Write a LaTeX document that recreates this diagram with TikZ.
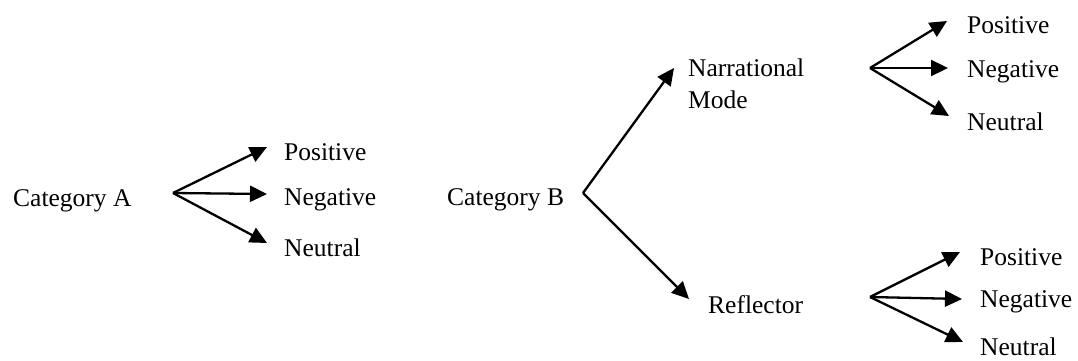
\documentclass[tikz,border=0pt]{standalone}
\usepackage{fontspec}
\setmainfont{Liberation Serif}
\usetikzlibrary{arrows.meta}
\begin{document}
\begin{tikzpicture}[x=1pt,y=-1pt,
  lbl/.style={anchor=west,inner sep=0pt,font=\fontsize{25.5}{32}\selectfont},
  arr/.style={line width=2.3pt,-{Triangle[length=17pt,width=16pt]}}]
\useasboundingbox (0,0) rectangle (1078,361);
% Category A
\node[lbl] (ca) at (13,201) {Category A};
\coordinate (oa) at (173,193);
\node[lbl] (ap) at (284,152) {Positive};
\node[lbl] (an) at (284,200) {Negative};
\node[lbl] (au) at (284,248) {Neutral};
\coordinate (tap) at (267,147);
\coordinate (tan) at (267,194);
\coordinate (tau) at (267,243);
\draw[arr] (oa) -- (tap);
\draw[arr] (oa) -- (tan);
\draw[arr] (oa) -- (tau);
% Category B
\node[lbl] (cb) at (447,200) {Category B};
\coordinate (ob) at (583,193);
\node[lbl,align=left] (nm) at (688,84) {Narrational\\Mode};
\node[lbl] (rf) at (708,305) {Reflector};
\coordinate (tnm) at (674,68);
\coordinate (trf) at (689,299);
\draw[arr] (ob) -- (tnm);
\draw[arr] (ob) -- (trf);
% Top right
\coordinate (o1) at (870,68);
\node[lbl] (p1) at (967,25) {Positive};
\node[lbl] (n1) at (967,72) {Negative};
\node[lbl] (u1) at (967,122) {Neutral};
\coordinate (tp1) at (947,21);
\coordinate (tn1) at (948,68);
\coordinate (tu1) at (949,116);
\draw[arr] (o1) -- (tp1);
\draw[arr] (o1) -- (tn1);
\draw[arr] (o1) -- (tu1);
% Bottom right
\coordinate (o2) at (870,297);
\node[lbl] (p2) at (980,257) {Positive};
\node[lbl] (n2) at (980,302) {Negative};
\node[lbl] (u2) at (980,347) {Neutral};
\coordinate (tp2) at (960,252);
\coordinate (tn2) at (962,299);
\coordinate (tu2) at (963,342);
\draw[arr] (o2) -- (tp2);
\draw[arr] (o2) -- (tn2);
\draw[arr] (o2) -- (tu2);
\end{tikzpicture}
\end{document}
